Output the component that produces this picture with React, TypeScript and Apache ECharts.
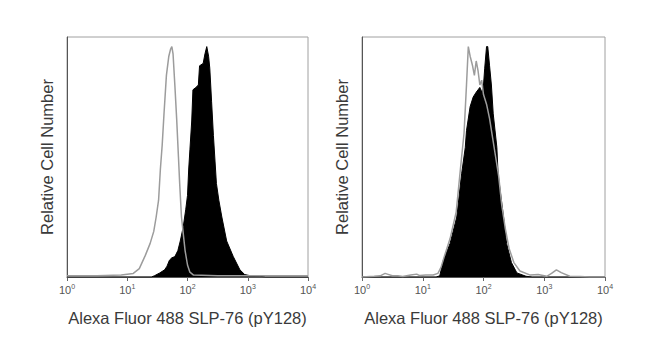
import React, { useEffect, useRef } from "react";
import * as echarts from "echarts";

// x values are log10 decades (0 = 10^0 ... 4 = 10^4), y = relative cell number (0-100)
const tickBase = "10";
const tickExponents = ["0", "1", "2", "3", "4"];
const xTitle = "Alexa Fluor 488 SLP-76 (pY128)";
const yTitle = "Relative Cell Number";

const leftControl: [number, number][] = [
  [0, 0.5], [0.5, 0.5], [0.9, 0.8], [1.1, 1.5], [1.2, 3.5], [1.3, 9], [1.38, 14], [1.44, 19],
  [1.48, 25], [1.52, 32], [1.55, 45], [1.58, 55], [1.61, 68], [1.65, 84], [1.69, 92], [1.72, 95],
  [1.74, 96], [1.76, 93], [1.79, 80], [1.82, 66], [1.85, 50], [1.87, 39], [1.9, 25], [1.96, 11],
  [2.0, 5], [2.04, 2], [2.1, 0.8], [2.5, 0.5], [3, 0.5], [4, 0.5],
];

const leftStained: [number, number][] = [
  [0, 0], [1.4, 0], [1.45, 0.5], [1.54, 1.7], [1.62, 3], [1.66, 4.5], [1.7, 7], [1.74, 8],
  [1.79, 8.5], [1.84, 11], [1.88, 15], [1.93, 21], [1.97, 28], [2.0, 34], [2.02, 45], [2.04, 53],
  [2.07, 65], [2.09, 78], [2.14, 79], [2.18, 80], [2.2, 88], [2.26, 89], [2.29, 93], [2.32, 96],
  [2.35, 92], [2.37, 87], [2.4, 73], [2.43, 59], [2.48, 39], [2.52, 32], [2.57, 25], [2.65, 15],
  [2.76, 8.5], [2.87, 3], [2.95, 1], [3.05, 0.5], [3.2, 0.3], [3.3, 0], [4, 0],
];

const rightControl: [number, number][] = [
  [0, 0], [0.2, 0.3], [0.3, 0.5], [0.38, 1.5], [0.43, 1.1], [0.5, 0.5], [0.59, 0.5], [0.67, 0.2],
  [0.8, 0.8], [0.9, 1.2], [0.95, 0.6], [1.05, 0.8], [1.17, 0.8], [1.25, 1.5], [1.3, 4], [1.36, 9],
  [1.45, 16], [1.55, 27], [1.62, 45], [1.68, 60], [1.72, 80], [1.75, 96], [1.78, 92], [1.82, 88],
  [1.85, 84], [1.88, 90], [1.91, 86], [1.94, 80], [1.97, 82], [2.0, 76], [2.05, 72], [2.1, 66],
  [2.15, 58], [2.2, 50], [2.25, 42], [2.3, 30], [2.36, 20], [2.42, 12], [2.5, 6], [2.6, 2.5],
  [2.77, 0.8], [2.9, 1], [3.04, 0.3], [3.12, 1.5], [3.2, 3], [3.28, 1.8], [3.42, 0.3], [3.59, 0.2],
  [3.75, 0], [4, 0],
];

const rightStained: [number, number][] = [
  [0, 0], [1.22, 0], [1.28, 0.5], [1.34, 7], [1.45, 14], [1.56, 25], [1.64, 43], [1.7, 54],
  [1.72, 61], [1.78, 71], [1.83, 75], [1.88, 77], [1.91, 78], [1.94, 79], [1.97, 77], [2.0, 80],
  [2.02, 87], [2.05, 96], [2.07, 96], [2.1, 88], [2.13, 80], [2.16, 68], [2.22, 54], [2.24, 43],
  [2.28, 35], [2.33, 25], [2.38, 14], [2.46, 6], [2.55, 1.7], [2.7, 0.3], [2.8, 0], [4, 0],
];

const FONT = "Liberation Sans, Arial, sans-serif";

function makeX(gridIndex: number) {
  return {
    type: "value",
    gridIndex,
    min: 0,
    max: 4,
    interval: 1,
    splitLine: { show: false },
    axisLine: { show: true, lineStyle: { color: "#555", width: 1 } },
    axisTick: { show: true, length: 4, lineStyle: { color: "#666" } },
    axisLabel: {
      color: "#555",
      fontFamily: FONT,
      margin: 6,
      formatter: (v: number) => `{b|${tickBase}}{s|${tickExponents[Math.round(v)] ?? ""}}`,
      rich: {
        b: { fontSize: 11, color: "#555", fontFamily: FONT },
        s: { fontSize: 7, color: "#555", fontFamily: FONT, padding: [0, 0, 6, 0] },
      },
    },
    name: xTitle,
    nameLocation: "middle",
    nameGap: 32,
    nameTextStyle: { color: "#3a3a3a", fontSize: 16.5, fontFamily: FONT },
  };
}

function makeY(gridIndex: number) {
  return {
    type: "value",
    gridIndex,
    min: 0,
    max: 100,
    splitLine: { show: false },
    axisLine: { show: true, lineStyle: { color: "#555", width: 1 } },
    axisTick: { show: false },
    axisLabel: { show: false },
    name: yTitle,
    nameLocation: "middle",
    nameGap: 12,
    nameTextStyle: { color: "#3a3a3a", fontSize: 16.5, fontFamily: FONT },
  };
}

function filled(data: [number, number][], idx: number) {
  return {
    type: "line",
    xAxisIndex: idx,
    yAxisIndex: idx,
    data,
    showSymbol: false,
    symbol: "none",
    lineStyle: { color: "#000", width: 1 },
    areaStyle: { color: "#000", opacity: 1 },
    z: 2,
  };
}

function outline(data: [number, number][], idx: number) {
  return {
    type: "line",
    xAxisIndex: idx,
    yAxisIndex: idx,
    data,
    showSymbol: false,
    symbol: "none",
    lineStyle: { color: "#9c9c9c", width: 1.5 },
    z: 3,
  };
}

export default function App() {
  const ref = useRef<HTMLDivElement>(null);
  useEffect(() => {
    if (!ref.current) return;
    const chart = echarts.init(ref.current, undefined, { renderer: "svg" });
    chart.setOption({
      animation: false,
      backgroundColor: "#fff",
      grid: [
        { left: 67, top: 37, width: 241, height: 240, show: true, borderColor: "#a0a0a0", borderWidth: 1, backgroundColor: "#fff" },
        { left: 362, top: 37, width: 243, height: 240, show: true, borderColor: "#a0a0a0", borderWidth: 1, backgroundColor: "#fff" },
      ],
      xAxis: [makeX(0), makeX(1)],
      yAxis: [makeY(0), makeY(1)],
      series: [
        filled(leftStained, 0),
        outline(leftControl, 0),
        filled(rightStained, 1),
        outline(rightControl, 1),
      ],
    });
    return () => chart.dispose();
  }, []);
  return (
    <div
      ref={ref}
      style={{ position: "fixed", left: 0, top: 0, width: 650, height: 364, background: "#fff" }}
    />
  );
}
